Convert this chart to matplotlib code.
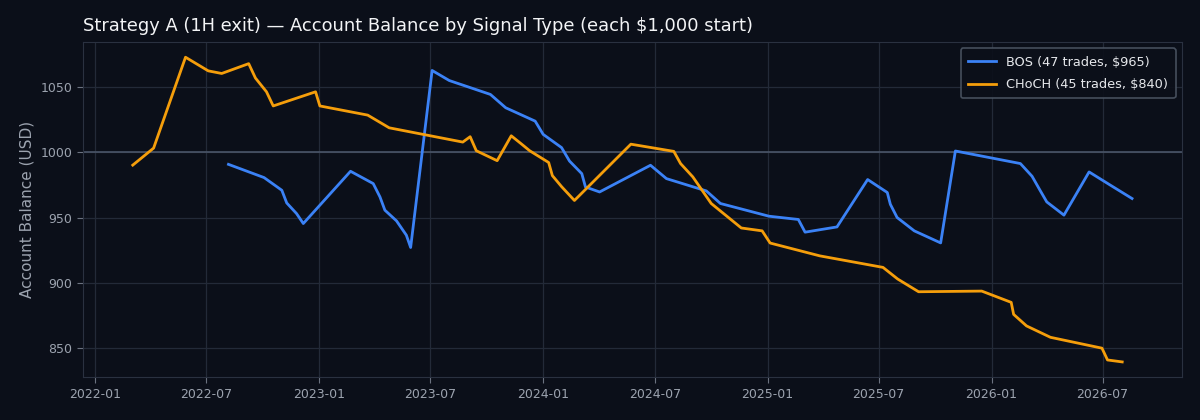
import matplotlib
matplotlib.use("Agg")
import matplotlib.pyplot as plt
import matplotlib.dates as mdates
import pandas as pd

choch_dates = ["2022-03-03", "2022-04-06", "2022-05-28", "2022-07-04", "2022-07-26",
               "2022-09-08", "2022-09-19", "2022-10-07", "2022-10-18", "2022-12-26",
               "2023-01-02", "2023-03-21", "2023-04-25", "2023-08-23", "2023-09-04",
               "2023-09-14", "2023-10-18", "2023-11-10", "2023-11-27", "2023-12-10",
               "2024-01-10", "2024-01-16", "2024-01-31", "2024-02-21", "2024-05-23",
               "2024-08-01", "2024-08-12", "2024-09-01", "2024-10-01", "2024-11-19",
               "2024-12-23", "2025-01-05", "2025-03-27", "2025-07-08", "2025-08-01",
               "2025-09-04", "2025-12-16", "2026-02-02", "2026-02-06", "2026-02-27",
               "2026-04-07", "2026-06-30", "2026-07-09", "2026-08-02"]
choch_balance = [990, 1003, 1072.4, 1062, 1060,
                 1067.5, 1056.5, 1046, 1035.2, 1046,
                 1035.2, 1028.2, 1018.5, 1007.6, 1011.7,
                 1001, 993.4, 1012.4, 1006, 1001,
                 992, 982, 973.6, 963, 1006,
                 1000.5, 991.2, 981, 960.7, 942,
                 939.8, 930.5, 920.7, 911.9, 903,
                 893.3, 893.8, 885.2, 876, 867.2,
                 858.5, 850.2, 841.2, 839.7]

bos_dates = ["2022-08-06", "2022-10-03", "2022-11-01", "2022-11-09", "2022-11-25",
             "2022-12-06", "2023-02-21", "2023-03-30", "2023-04-10", "2023-04-18",
             "2023-05-07", "2023-05-23", "2023-05-30", "2023-07-04", "2023-08-01",
             "2023-10-07", "2023-11-01", "2023-12-19", "2024-01-01", "2024-01-31",
             "2024-02-13", "2024-03-04", "2024-03-10", "2024-04-02", "2024-06-24",
             "2024-07-20", "2024-09-23", "2024-10-16", "2025-01-03", "2025-02-20",
             "2025-03-03", "2025-04-24", "2025-06-13", "2025-07-15", "2025-07-20",
             "2025-07-31", "2025-08-28", "2025-10-10", "2025-11-03", "2026-02-17",
             "2026-03-08", "2026-03-21", "2026-04-01", "2026-04-29", "2026-06-09",
             "2026-07-14", "2026-08-18"]
bos_balance = [990.6, 980.5, 970.8, 961.1, 953,
               945.4, 985.3, 975.9, 965.7, 955.6,
               947.4, 936.5, 927.1, 1062.3, 1054.6,
               1044, 1033.8, 1023.6, 1013.5, 1003.4,
               993.1, 983.5, 973.3, 969.5, 989.9,
               979.7, 970.3, 960.7, 951, 948.5,
               938.8, 942.8, 979, 969.1, 960.1,
               950, 939.8, 930.6, 1000.8, 991.2,
               981.5, 970.8, 961.9, 951.8, 984.8,
               974.6, 964.5]

title = "Strategy A (1H exit) \u2014 Account Balance by Signal Type (each $1,000 start)"
ylabel = "Account Balance (USD)"
bos_label = "BOS (47 trades, $965)"
choch_label = "CHoCH (45 trades, $840)"
start_balance = 1000

BG = "#0b0f19"
GRID = "#232a38"
TXT = "#9ca3af"
BLUE = "#3b82f6"
ORANGE = "#f59e0b"

fig = plt.figure(figsize=(12, 4.2), dpi=100, facecolor=BG)
ax = fig.add_axes([0.069, 0.102, 0.916, 0.798], facecolor=BG)

ax.plot(pd.to_datetime(bos_dates), bos_balance, color=BLUE, lw=2, label=bos_label, zorder=3)
ax.plot(pd.to_datetime(choch_dates), choch_balance, color=ORANGE, lw=2, label=choch_label, zorder=3)
ax.axhline(start_balance, color="#4a5568", lw=1.2, zorder=2)

ax.grid(True, color=GRID, lw=0.9, zorder=0)
ax.set_axisbelow(True)
for s in ax.spines.values():
    s.set_color("#2a3140")
ax.tick_params(colors=TXT, labelsize=9, length=4, color="#6b7280")
ax.xaxis.set_major_locator(mdates.MonthLocator(bymonth=[1, 7]))
ax.xaxis.set_major_formatter(mdates.DateFormatter("%Y-%m"))
ax.set_yticks([850, 900, 950, 1000, 1050])

ax.set_title(title, loc="left", color="#f3f4f6", fontsize=12.9, pad=8)
ax.set_ylabel(ylabel, color=TXT, fontsize=11)

leg = ax.legend(loc="upper right", fontsize=9.3, facecolor=BG, edgecolor="#4b5563",
                framealpha=0.9, labelcolor="#e5e7eb", labelspacing=0.75,
                handlelength=2.2, borderpad=0.55)
leg.get_frame().set_linewidth(1.2)

fig.savefig("out.png", dpi=100, facecolor=BG)
